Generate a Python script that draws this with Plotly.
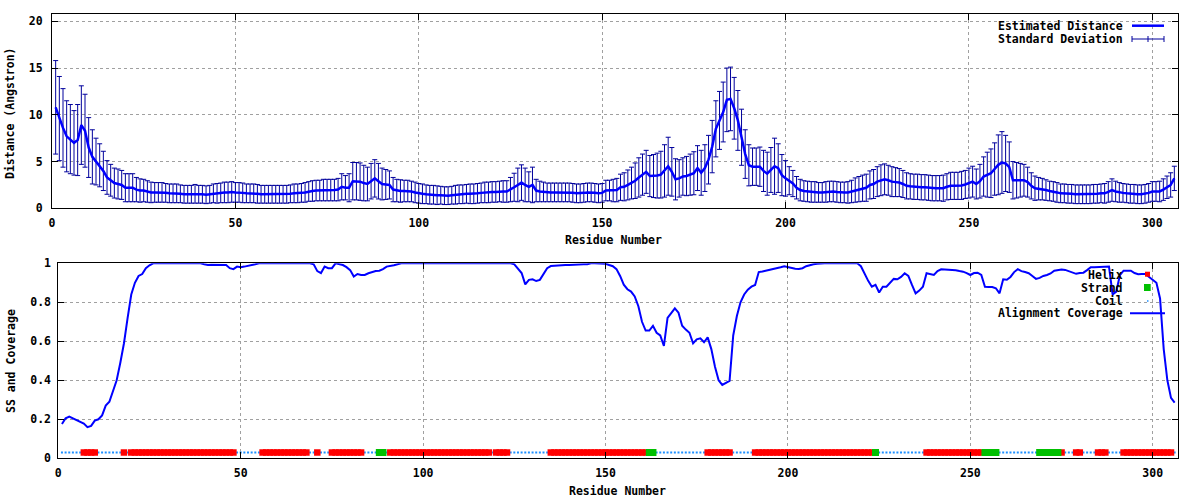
import plotly.graph_objects as go

# ---------------- data ----------------
residues = list(range(1, 307))

distance = [
    10.8, 9.6, 8.6, 7.7, 7.4, 7.0, 7.3, 8.9, 8.3, 6.5,
    5.5, 5.0, 4.6, 4.0, 3.3, 3.0, 2.7, 2.6, 2.5, 2.2,
    2.2, 2.2, 2.0, 1.9, 1.9, 1.8, 1.7, 1.7, 1.7, 1.7,
    1.65, 1.6, 1.6, 1.6, 1.55, 1.5, 1.5, 1.5, 1.55, 1.5,
    1.5, 1.45, 1.5, 1.6, 1.6, 1.65, 1.7, 1.7, 1.75, 1.7,
    1.7, 1.65, 1.6, 1.6, 1.6, 1.55, 1.5, 1.5, 1.5, 1.5,
    1.5, 1.5, 1.5, 1.5, 1.55, 1.6, 1.6, 1.65, 1.7, 1.8,
    1.85, 1.9, 1.9, 1.95, 1.95, 1.95, 1.95, 2.0, 2.3, 2.2,
    2.2, 2.9, 2.9, 2.85, 2.7, 2.6, 2.9, 3.2, 2.9, 2.6,
    2.55, 2.5, 2.0, 1.9, 1.85, 1.85, 1.85, 1.8, 1.7, 1.6,
    1.55, 1.5, 1.45, 1.45, 1.4, 1.4, 1.35, 1.35, 1.4, 1.45,
    1.5, 1.5, 1.55, 1.55, 1.55, 1.6, 1.65, 1.7, 1.7, 1.75,
    1.75, 1.8, 1.8, 1.8, 2.0, 2.25, 2.5, 2.75, 2.5, 2.3,
    2.5, 1.9, 1.8, 1.75, 1.7, 1.7, 1.7, 1.7, 1.7, 1.7,
    1.7, 1.65, 1.6, 1.6, 1.65, 1.7, 1.7, 1.65, 1.6, 1.65,
    1.9, 1.9, 1.9, 1.95, 2.25, 2.3, 2.5, 2.7, 2.95, 3.3,
    3.6, 3.9, 3.45, 3.45, 3.5, 3.6, 4.0, 4.5, 3.9, 3.1,
    3.2, 3.4, 3.45, 3.6, 3.75, 4.3, 3.8, 4.3, 5.2, 6.6,
    8.5, 9.4, 10.3, 11.6, 11.7, 10.7, 9.4, 7.6, 5.8, 4.6,
    4.45, 4.45, 4.45, 4.0, 3.7, 4.1, 4.5, 4.3, 3.55, 3.2,
    2.95, 2.65, 2.2, 1.95, 1.85, 1.8, 1.75, 1.75, 1.7, 1.7,
    1.75, 1.8, 1.8, 1.75, 1.7, 1.7, 1.7, 1.8, 1.95, 2.05,
    2.15, 2.2, 2.5, 2.6, 2.85, 3.0, 3.1, 3.0, 2.85, 2.8,
    2.75, 2.6, 2.4, 2.35, 2.3, 2.3, 2.25, 2.25, 2.2, 2.15,
    2.15, 2.15, 2.15, 2.3, 2.4, 2.4, 2.4, 2.45, 2.55, 2.7,
    2.85, 2.6, 2.9, 3.4, 3.6, 3.75, 4.2, 4.65, 4.9, 4.8,
    4.4, 3.0, 3.0, 3.0, 3.0, 2.8, 2.4, 2.15, 2.1, 2.05,
    1.95, 1.85, 1.8, 1.7, 1.6, 1.6, 1.55, 1.55, 1.5, 1.5,
    1.5, 1.5, 1.5, 1.55, 1.55, 1.6, 1.6, 1.75, 1.95, 1.8,
    1.7, 1.65, 1.6, 1.55, 1.55, 1.5, 1.5, 1.55, 1.65, 1.8,
    1.8, 1.8, 2.0, 2.25, 2.5, 3.2,
]

std_dev = [
    5.0, 4.5, 4.2, 3.8, 3.7, 3.45, 3.8, 4.2, 3.9, 3.2,
    2.9, 2.5, 2.3, 2.1, 1.8, 1.7, 1.6, 1.6, 1.55, 1.5,
    1.5, 1.5, 1.3, 1.25, 1.2, 1.15, 1.1, 1.05, 1.05, 1.05,
    1.0, 1.0, 1.0, 1.0, 0.95, 0.95, 0.95, 0.95, 1.0, 0.95,
    0.95, 0.95, 0.95, 1.0, 1.05, 1.05, 1.1, 1.1, 1.1, 1.05,
    1.05, 1.05, 1.0, 1.0, 1.0, 1.0, 0.95, 0.95, 0.95, 0.95,
    0.95, 0.95, 0.95, 0.95, 0.95, 1.0, 1.0, 1.0, 1.05, 1.05,
    1.1, 1.1, 1.1, 1.15, 1.15, 1.15, 1.15, 1.2, 1.4, 1.3,
    1.5, 2.0, 2.0, 2.0, 1.9, 1.8, 1.9, 2.0, 1.9, 1.7,
    1.6, 1.5, 1.3, 1.2, 1.2, 1.15, 1.15, 1.1, 1.1, 1.05,
    1.05, 1.0, 1.0, 1.0, 1.0, 0.95, 0.95, 0.95, 0.95, 1.0,
    1.0, 1.0, 1.0, 1.05, 1.05, 1.05, 1.05, 1.1, 1.1, 1.1,
    1.1, 1.1, 1.15, 1.15, 1.3, 1.5, 1.8, 1.9, 1.8, 1.6,
    1.9, 1.2, 1.1, 1.05, 1.0, 1.0, 1.0, 1.0, 1.0, 1.0,
    1.0, 1.0, 1.0, 1.0, 1.0, 1.0, 1.0, 1.0, 1.0, 1.0,
    1.1, 1.1, 1.2, 1.25, 1.4, 1.5, 1.6, 1.7, 1.9, 2.1,
    2.2, 2.3, 2.2, 2.3, 2.4, 2.5, 2.8, 3.1, 2.6, 2.2,
    2.0, 2.0, 2.1, 2.2, 2.3, 2.4, 2.4, 2.5, 2.6, 2.8,
    3.0, 3.1, 3.2, 3.4, 3.4, 3.3, 3.2, 3.0, 2.6, 2.2,
    2.0, 2.0, 2.1, 2.2, 2.3, 2.4, 3.0, 2.6, 2.2, 1.9,
    1.5, 1.4, 1.2, 1.15, 1.1, 1.1, 1.1, 1.1, 1.05, 1.05,
    1.1, 1.1, 1.1, 1.1, 1.1, 1.1, 1.15, 1.2, 1.3, 1.35,
    1.4, 1.45, 1.5, 1.55, 1.6, 1.65, 1.65, 1.6, 1.6, 1.55,
    1.5, 1.45, 1.4, 1.35, 1.35, 1.35, 1.35, 1.35, 1.35, 1.35,
    1.35, 1.35, 1.4, 1.4, 1.45, 1.45, 1.45, 1.5, 1.5, 1.6,
    1.65, 1.6, 1.8, 2.1, 2.4, 2.6, 2.8, 3.2, 3.3, 3.0,
    2.7, 2.0, 1.9, 1.8, 1.7, 1.6, 1.4, 1.3, 1.2, 1.15,
    1.1, 1.05, 1.05, 1.05, 1.0, 1.0, 1.0, 1.0, 1.0, 1.0,
    1.0, 1.0, 1.0, 1.0, 1.0, 1.0, 1.05, 1.1, 1.2, 1.1,
    1.05, 1.0, 1.0, 1.0, 1.0, 1.0, 1.0, 1.0, 1.0, 1.05,
    1.05, 1.1, 1.15, 1.2, 1.3, 1.3,
]

coverage = [
    0.176, 0.205, 0.214, 0.205, 0.197, 0.185, 0.178, 0.16, 0.166, 0.193,
    0.20, 0.22, 0.27, 0.29, 0.34, 0.40, 0.49, 0.59, 0.72, 0.84,
    0.90, 0.935, 0.945, 0.975, 0.99, 1.0, 1.0, 1.0, 1.0, 1.0,
    1.0, 1.0, 1.0, 1.0, 1.0, 1.0, 1.0, 1.0, 1.0, 0.995,
    0.991, 0.993, 0.993, 0.991, 0.991, 0.991, 0.975, 0.97, 0.983, 0.98,
    0.983, 0.986, 0.99, 0.995, 1.0, 1.0, 1.0, 1.0, 1.0, 1.0,
    1.0, 1.0, 1.0, 1.0, 1.0, 1.0, 1.0, 1.0, 1.0, 0.995,
    0.96, 0.95, 0.983, 0.975, 0.975, 1.0, 0.995, 0.991, 0.98, 0.965,
    0.932, 0.945, 0.94, 0.94, 0.949, 0.955, 0.96, 0.962, 0.97, 0.983,
    0.985, 0.99, 0.995, 1.0, 1.0, 1.0, 1.0, 1.0, 1.0, 1.0,
    1.0, 1.0, 1.0, 1.0, 1.0, 1.0, 1.0, 1.0, 1.0, 1.0,
    1.0, 1.0, 1.0, 1.0, 1.0, 1.0, 1.0, 1.0, 1.0, 1.0,
    1.0, 1.0, 1.0, 1.0, 0.995, 0.975, 0.95, 0.892, 0.915, 0.918,
    0.909, 0.915, 0.945, 0.975, 0.986, 0.988, 0.99, 0.991, 0.991, 0.991,
    0.993, 0.993, 0.995, 0.995, 0.995, 1.0, 1.0, 1.0, 1.0, 0.998,
    0.991, 0.985, 0.97, 0.935, 0.89, 0.867, 0.855, 0.83, 0.78, 0.70,
    0.655, 0.655, 0.679, 0.644, 0.63, 0.576, 0.72, 0.745, 0.769, 0.747,
    0.68, 0.66, 0.644, 0.59, 0.61, 0.615, 0.595, 0.62, 0.56, 0.47,
    0.40, 0.376, 0.385, 0.397, 0.63, 0.73, 0.80, 0.84, 0.865, 0.88,
    0.889, 0.955, 0.958, 0.962, 0.965, 0.971, 0.975, 0.98, 0.985, 0.98,
    0.974, 0.972, 0.971, 0.975, 0.985, 0.991, 0.995, 0.998, 1.0, 1.0,
    1.0, 1.0, 1.0, 1.0, 1.0, 1.0, 1.0, 1.0, 1.0, 0.985,
    0.945, 0.91, 0.88, 0.889, 0.85, 0.88, 0.88, 0.90, 0.92, 0.918,
    0.93, 0.949, 0.935, 0.889, 0.846, 0.86, 0.88, 0.949, 0.945, 0.94,
    0.96, 0.969, 0.968, 0.967, 0.966, 0.964, 0.96, 0.957, 0.95, 0.94,
    0.95, 0.952, 0.94, 0.88, 0.879, 0.878, 0.872, 0.846, 0.918, 0.916,
    0.93, 0.955, 0.97, 0.96, 0.955, 0.949, 0.935, 0.92, 0.925, 0.935,
    0.94, 0.948, 0.962, 0.966, 0.968, 0.966, 0.96, 0.95, 0.946, 0.95,
    0.952, 0.965, 0.98, 0.98, 0.98, 0.98, 0.982, 0.983, 0.84, 0.855,
    0.94, 0.962, 0.962, 0.962, 0.95, 0.944, 0.945, 0.945, 0.93, 0.915,
    0.90, 0.82, 0.56, 0.40, 0.31, 0.285,
]

helix_segments = [(7, 10), (18, 18), (20, 48), (56, 68), (71, 71), (75, 83),
                  (91, 118), (120, 123), (135, 161), (178, 184), (191, 223),
                  (238, 253), (275, 275), (279, 280), (285, 287), (292, 305)]
strand_segments = [(88, 89), (162, 163), (224, 224), (254, 257), (269, 274)]
ss_level = 0.03

x_ticks = [0, 50, 100, 150, 200, 250, 300]

# ---------------- derived tables ----------------
def expand(segs):
    out = set()
    for a, b in segs:
        out.update(range(a, b + 1))
    return out

helix_set = expand(helix_segments)
strand_set = expand(strand_segments)
helix_x = [r for r in residues if r in helix_set]
strand_x = [r for r in residues if r in strand_set]
coil_x = [r for r in residues if r not in helix_set and r not in strand_set]

# ---------------- style ----------------
W, H = 1200, 500
FONT = dict(family="DejaVu Sans Mono", size=11.5, color="black", weight="bold")
LINE_BLUE = "#0000ff"
ERR_BLUE = "#00009c"
RED = "#ff0000"
GREEN = "#00c000"
COIL = "#1e90ff"
GRID = "#a0a0a0"

def px(x):
    return x / W

def py(y):
    return 1 - y / H

fig = go.Figure()

# top panel
fig.add_trace(go.Scatter(
    x=residues, y=distance, mode="markers",
    marker=dict(size=1, color=ERR_BLUE),
    error_y=dict(type="data", array=std_dev, visible=True, color=ERR_BLUE,
                 thickness=1, width=2.5),
    xaxis="x", yaxis="y", showlegend=False, hoverinfo="skip"))
fig.add_trace(go.Scatter(
    x=residues, y=distance, mode="lines",
    line=dict(color=LINE_BLUE, width=2.5),
    xaxis="x", yaxis="y", showlegend=False, name="Estimated Distance"))

# bottom panel
fig.add_trace(go.Scatter(
    x=coil_x, y=[ss_level] * len(coil_x), mode="markers",
    marker=dict(size=2, color=COIL, symbol="square"),
    xaxis="x2", yaxis="y2", showlegend=False, name="Coil"))
fig.add_trace(go.Scatter(
    x=helix_x, y=[ss_level] * len(helix_x), mode="markers",
    marker=dict(size=6.5, color=RED, symbol="square", line=dict(width=0)),
    xaxis="x2", yaxis="y2", showlegend=False, name="Helix"))
fig.add_trace(go.Scatter(
    x=strand_x, y=[ss_level] * len(strand_x), mode="markers",
    marker=dict(size=7, color=GREEN, symbol="square", line=dict(width=0)),
    xaxis="x2", yaxis="y2", showlegend=False, name="Strand"))
fig.add_trace(go.Scatter(
    x=residues, y=coverage, mode="lines",
    line=dict(color=LINE_BLUE, width=2),
    xaxis="x2", yaxis="y2", showlegend=False, name="Alignment Coverage"))

axis_common = dict(
    showline=True, mirror="ticks", linecolor="black", linewidth=1,
    ticks="inside", ticklen=6, tickcolor="black", tickwidth=1,
    showgrid=True, gridcolor=GRID, griddash="dot", gridwidth=1,
    zeroline=False, tickfont=FONT, automargin=False,
)

fig.update_layout(
    width=W, height=H, autosize=False,
    margin=dict(l=0, r=0, t=0, b=0, pad=0, autoexpand=False),
    paper_bgcolor="white", plot_bgcolor="white",
    xaxis=dict(axis_common, domain=[px(52), px(1178)], range=[0, 307],
               tickvals=x_ticks, anchor="y", ticklabelstandoff=4),
    yaxis=dict(axis_common, domain=[py(208.3), py(14.3)], range=[0, 20.75],
               tickvals=[0, 5, 10, 15, 20], anchor="x", ticklabelstandoff=6),
    xaxis2=dict(axis_common, domain=[px(58.3), px(1178.3)], range=[0, 307],
                tickvals=x_ticks, anchor="y2", ticklabelstandoff=4),
    yaxis2=dict(axis_common, domain=[py(458.3), py(263.3)], range=[0, 1],
                tickvals=[0, 0.2, 0.4, 0.6, 0.8, 1],
                ticktext=["0", "0.2", "0.4", "0.6", "0.8", "1"],
                anchor="x2", ticklabelstandoff=4),
)

shapes = []
annotations = []

def blank(x0, y0, x1, y1):
    shapes.append(dict(type="rect", xref="paper", yref="paper",
                       x0=px(x0), x1=px(x1), y0=py(y1), y1=py(y0),
                       fillcolor="white", line=dict(width=0), layer="between"))

def hline(x0, x1, y, color, width):
    shapes.append(dict(type="line", xref="paper", yref="paper",
                       x0=px(x0), x1=px(x1), y0=py(y), y1=py(y),
                       line=dict(color=color, width=width)))

def vline(x, y0, y1, color, width):
    shapes.append(dict(type="line", xref="paper", yref="paper",
                       x0=px(x), x1=px(x), y0=py(y0), y1=py(y1),
                       line=dict(color=color, width=width)))

def box(x0, y0, x1, y1, color):
    shapes.append(dict(type="rect", xref="paper", yref="paper",
                       x0=px(x0), x1=px(x1), y0=py(y1), y1=py(y0),
                       fillcolor=color, line=dict(width=0)))

def label(text, x, y, xanchor="right", angle=0):
    annotations.append(dict(text=text, xref="paper", yref="paper",
                            x=px(x), y=py(y), xanchor=xanchor, yanchor="middle",
                            showarrow=False, font=FONT, textangle=angle,
                            borderpad=0))

# legend backgrounds (blank the grid like gnuplot does)
blank(993, 15, 1172, 46)
blank(993, 264, 1172, 320)

# top legend
label("Estimated Distance", 1124, 25.7)
hline(1132, 1164, 25.7, LINE_BLUE, 2.5)
label("Standard Deviation", 1124, 39)
hline(1132, 1164, 39, ERR_BLUE, 1)
for xv in (1132, 1148, 1164):
    vline(xv, 36, 42, ERR_BLUE, 1)

# bottom legend
label("Helix", 1124, 275)
box(1145, 271.7, 1150, 276.7, RED)
label("Strand", 1124, 288)
box(1144, 284, 1150.7, 291, GREEN)
label("Coil", 1124, 300.7)
box(1147, 300.3, 1148.5, 301.7, COIL)
label("Alignment Coverage", 1124, 313.3)
hline(1130, 1165, 313.3, LINE_BLUE, 2)

# axis titles
label("Distance (Angstron)", 10, 113, xanchor="center", angle=-90)
label("Residue Number", 613, 240, xanchor="center")
label("SS and Coverage", 11, 361, xanchor="center", angle=-90)
label("Residue Number", 617, 490.5, xanchor="center")

fig.update_layout(shapes=shapes, annotations=annotations)

fig.write_html(
    "out.html",
    config={"displayModeBar": False},
    post_script="document.body.style.margin='0';document.body.style.overflow='hidden';",
)
